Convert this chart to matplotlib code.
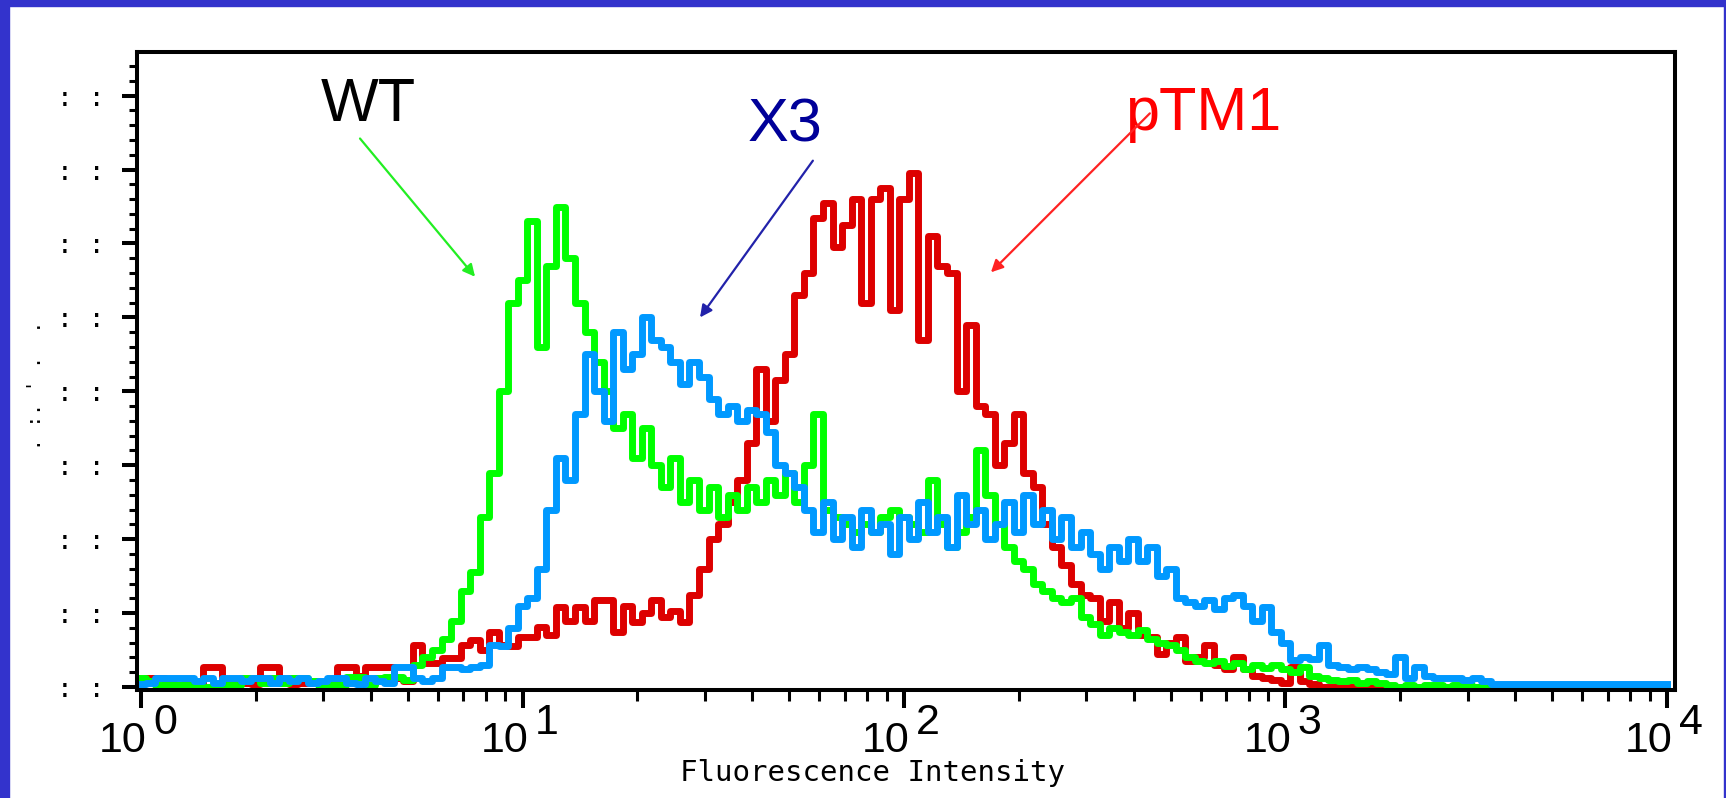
import numpy as np
import matplotlib
matplotlib.use('Agg')
import matplotlib.pyplot as plt
from matplotlib.patches import Rectangle
from matplotlib.ticker import MultipleLocator, FixedLocator

# log-amp channels, 40 channels per decade
channel = np.arange(161)
intensity = 10 ** (channel / 40)

# event counts per channel
wt_counts = [
    1.2, 0.8, 0.3, 0.3, 0.3, 0.3, 0, 0, 0.3, 0.3,
    0.3, 1.2, 1.2, 0.6, 1.2, 0.5, 1.2, 1.2, 0.8, 0.3,
    0.3, 0.3, 1.4, 1.4, 0.3, 1.2, 1.4, 1.4, 1.0, 3,
    4, 5, 6.5, 9, 13, 15.5, 23, 29, 40, 52,
    55, 63, 46, 57, 65, 58, 52, 48, 44, 40,
    35, 37, 31, 35, 30, 27, 31, 25, 28, 24,
    27, 23, 26, 24, 27, 25, 28, 26, 29, 25,
    30, 37, 24, 23, 22, 21, 22, 21, 23, 24,
    23, 22, 21, 28, 22, 19, 21, 23, 32, 26,
    22, 19, 17, 16, 14, 13, 12, 11.5, 12, 9.5,
    8.5, 7, 8, 7.5, 7, 7.7, 6.5, 6, 5.7, 5,
    4, 3.5, 3.3, 3.5, 2.8, 3.2, 2.5, 3, 2.6, 3,
    2.5, 2, 2.7, 1.5, 1.2, 1, 0.8, 1, 0.6, 0.8,
    0.5, 0.3, 0, 0.3, 0, 0.3, 0.3, 0, 0.3, 0.3,
    0, 0, 0, 0, 0, 0, 0, 0, 0, 0,
    0, 0, 0, 0, 0, 0, 0, 0, 0, 0,
    0,
]
x3_counts = [
    0.4, 0.5, 1.2, 1.2, 1.2, 1.2, 0.8, 1.2, 0.5, 1.2,
    1.2, 0.8, 1.2, 1.2, 0.6, 1.2, 0.8, 1.2, 0.5, 0.8,
    1.2, 1.2, 0.6, 0.4, 1.2, 0.8, 0.6, 2.7, 2.7, 1.2,
    0.8, 1.2, 2.7, 2.7, 2.5, 2.7, 3, 5.7, 5.5, 8,
    11, 12, 16, 24, 31, 28, 37, 45, 40, 36,
    48, 43, 45, 50, 47, 46, 44, 41, 44, 42,
    39, 37, 38, 36, 37.5, 37, 34.5, 30, 29, 27,
    24, 21, 25, 20, 23, 19, 24, 21, 22, 18,
    23, 20, 25, 21, 23, 19, 26, 22, 24, 20,
    22, 25, 21, 26, 22, 24, 20, 23, 19, 21,
    18, 16, 19, 17, 20, 17, 19, 15, 16, 12,
    11.5, 11, 11.8, 10.5, 12, 12.5, 11, 9, 10.8, 7.5,
    6, 3.7, 4, 3.8, 5.7, 3, 2.7, 2.5, 2.7, 2.5,
    2, 1.8, 4, 1.2, 2.7, 1.5, 1.2, 1.2, 1.2, 1.0,
    1.2, 0.8, 0.4, 0.4, 0.4, 0.4, 0.4, 0.4, 0.4, 0.4,
    0.4, 0.4, 0.4, 0.4, 0.4, 0.4, 0.4, 0.4, 0.4, 0.4,
    0.4,
]
ptm1_counts = [
    0.5, 1.2, 1.2, 0.6, 0.3, 0.5, 0.4, 2.7, 2.7, 0.8,
    0.5, 0.6, 0.4, 2.7, 2.7, 0.8, 0.4, 0.5, 0.6, 0.5,
    0.8, 2.7, 2.7, 1.5, 2.7, 2.7, 2.7, 1.2, 0.8, 5.7,
    3.2, 3.2, 3.9, 3.9, 5.7, 6.4, 5, 7.5, 5.7, 5.5,
    6.8, 6.8, 8.1, 7, 10.8, 9, 10.8, 9, 11.8, 11.8,
    7.5, 11, 8.8, 10, 11.8, 9.5, 10.3, 8.8, 12.5, 16,
    20, 22, 25, 28, 33, 43, 36, 41.6, 45, 53,
    56, 63.5, 65.5, 59.5, 62.5, 66, 52, 66, 67.5, 51,
    66, 69.6, 47, 61, 57, 56, 40, 49, 38, 37,
    30, 33, 37, 29, 27, 22, 19, 16.5, 14, 12.5,
    12, 9, 11.5, 8, 10, 7, 6.8, 4.5, 6, 6.8,
    3.5, 4, 5.7, 3, 2.5, 4, 2.5, 1.5, 1.2, 1,
    0.5, 2.7, 0.8, 0.4, 0, 0, 0, 0, 0, 0,
    0, 0, 0, 0, 0, 0, 0, 0, 0, 0,
    0, 0, 0, 0, 0, 0, 0, 0, 0, 0,
    0, 0, 0, 0, 0, 0, 0, 0, 0, 0,
    0,
]

decades = [1, 10, 100, 1000, 10000]
exponents = ['0', '1', '2', '3', '4']
count_ticks = [0, 10, 20, 30, 40, 50, 60, 70, 80]

W, H = 1726, 798
fig = plt.figure(figsize=(W / 100, H / 100), dpi=100)
fig.patch.set_facecolor('white')
frame = '#3333CC'
fig.patches.append(Rectangle((0, 0), 9 / W, 1, transform=fig.transFigure, color=frame))
fig.patches.append(Rectangle((0, 1 - 6 / H), 1, 6 / H, transform=fig.transFigure, color=frame))
fig.patches.append(Rectangle((1 - 2 / W, 0), 2 / W, 1, transform=fig.transFigure, color=frame))

ax = fig.add_axes([137 / W, 108 / H, 1538 / W, 638 / H])

ax.step(intensity, ptm1_counts, where='mid', color='#DD0000', lw=5)
ax.step(intensity, wt_counts, where='mid', color='#00FF00', lw=5)
ax.step(intensity, x3_counts, where='mid', color='#0099FF', lw=5)

ax.set_xscale('log')
ax.set_xlim(10 ** -0.0105, 10 ** 4.021)
ax.set_ylim(-0.4, 85.9)

for s in ax.spines.values():
    s.set_linewidth(2.9)

ax.xaxis.set_major_locator(FixedLocator(decades))
ax.xaxis.set_minor_locator(FixedLocator([m * d for d in decades[:-1] for m in range(2, 10)]))
ax.tick_params(axis='x', which='major', direction='out', length=13, width=2.9, labelbottom=False)
ax.tick_params(axis='x', which='minor', direction='out', length=8, width=2.2, labelbottom=False)

ax.set_yticks(count_ticks)
ax.yaxis.set_minor_locator(MultipleLocator(2))
ax.tick_params(axis='y', which='major', direction='out', length=11, width=2.9, pad=12, labelsize=19)
ax.tick_params(axis='y', which='minor', direction='out', length=6, width=2.2)
ax.set_yticklabels([': :'] * len(count_ticks), family='DejaVu Sans Mono')

# decade labels: "10" with a full-size exponent
for d, e in zip(decades, exponents):
    ax.annotate('10', xy=(d, 0), xycoords=('data', 'axes fraction'),
                xytext=(4.3, -45), textcoords='offset points',
                ha='right', va='baseline', fontsize=31, family='Liberation Sans',
                annotation_clip=False)
    ax.annotate(e, xy=(d, 0), xycoords=('data', 'axes fraction'),
                xytext=(8.6, -31.5), textcoords='offset points',
                ha='left', va='baseline', fontsize=31, family='Liberation Sans',
                annotation_clip=False)

ax.set_xlabel('Fluorescence Intensity', family='DejaVu Sans Mono', fontsize=21, va='baseline')
ax.xaxis.set_label_coords(0.478, -0.143)
ax.set_ylabel(". :. ' .  .", family='DejaVu Sans Mono', fontsize=14, va='center')
ax.yaxis.set_label_coords(-0.066, 0.478)

# sample labels with arrows
ax.text(2.96, 76.5, 'WT', fontsize=44, color='black', family='Liberation Sans', va='baseline')
ax.annotate('', xy=(7.51, 55.5), xytext=(3.75, 74.2),
            arrowprops=dict(arrowstyle='-|>', color='#22EE22', lw=1.6, mutation_scale=18,
                            shrinkA=0, shrinkB=0))
ax.text(39.0, 73.8, 'X3', fontsize=44, color='#000099', family='Liberation Sans', va='baseline')
ax.annotate('', xy=(29.2, 50.0), xytext=(57.7, 71.2),
            arrowprops=dict(arrowstyle='-|>', color='#2222AA', lw=1.6, mutation_scale=18,
                            shrinkA=0, shrinkB=0))
ax.text(379, 75.3, 'pTM1', fontsize=44, color='#FF0000', family='Liberation Sans', va='baseline')
ax.annotate('', xy=(169, 56.1), xytext=(441, 77.6),
            arrowprops=dict(arrowstyle='-|>', color='#FF2222', lw=1.6, mutation_scale=18,
                            shrinkA=0, shrinkB=0))

fig.savefig('out.png', dpi=100)
